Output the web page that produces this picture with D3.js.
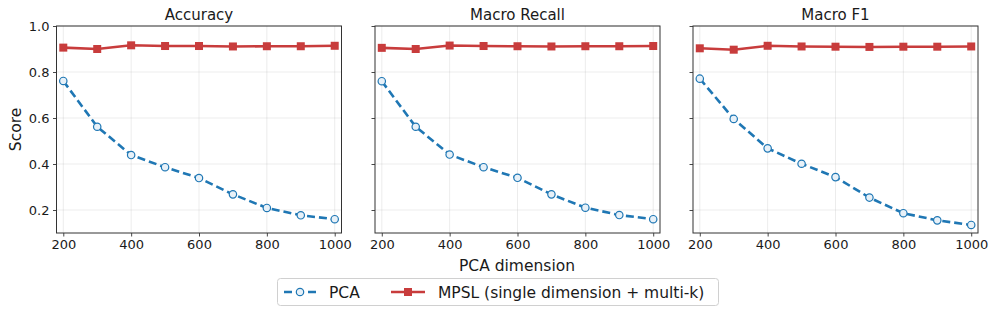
<!DOCTYPE html>
<html>
<head>
<meta charset="utf-8">
<script src="https://cdn.jsdelivr.net/npm/d3@7"></script>
<style>
    body { margin: 0; background: #fff; }
    text { font-family: "DejaVu Sans", sans-serif; fill: #1a1a1a; }
</style>
</head>
<body>
<div class="chart-container"></div>
<script>
// Data
const dims = [200, 300, 400, 500, 600, 700, 800, 900, 1000];
const metrics = ["Accuracy", "Macro Recall", "Macro F1"];
const pcaAccuracy = [0.761, 0.562, 0.439, 0.386, 0.339, 0.268, 0.209, 0.177, 0.160];
const pcaRecall   = [0.760, 0.562, 0.441, 0.386, 0.340, 0.268, 0.210, 0.178, 0.160];
const pcaF1       = [0.771, 0.596, 0.468, 0.401, 0.343, 0.254, 0.186, 0.155, 0.135];
const mpslAccuracy = [0.906, 0.900, 0.916, 0.913, 0.913, 0.911, 0.912, 0.912, 0.914];
const mpslRecall   = [0.905, 0.900, 0.915, 0.913, 0.912, 0.911, 0.912, 0.912, 0.913];
const mpslF1       = [0.903, 0.897, 0.914, 0.911, 0.910, 0.909, 0.910, 0.910, 0.911];
const xTicks = [200, 400, 600, 800, 1000];
const yTicks = [0.2, 0.4, 0.6, 0.8, 1.0];
const seriesNames = ["PCA", "MPSL (single dimension + multi-k)"];

const pcaData = [pcaAccuracy, pcaRecall, pcaF1];
const mpslData = [mpslAccuracy, mpslRecall, mpslF1];

const width = 996;
const height = 314;
const panelLefts = [56.5, 375, 693];
const panelWidth = 285;
const marginTop = 26;
const plotBottom = 233;

const blue = "#1f77b4";
const red = "#c83c3c";

const svg = d3.select('.chart-container').append("svg")
    .attr("width", width)
    .attr("height", height);

const y = d3.scaleLinear()
    .domain([0.1, 1.0])
    .range([plotBottom, marginTop]);

metrics.forEach((name, i) => {
    const left = panelLefts[i];
    const x = d3.scaleLinear()
        .domain([180, 1020])
        .range([left, left + panelWidth]);

    const g = svg.append("g");

    // grid
    g.selectAll(".vgrid").data(xTicks).enter().append("line")
        .attr("x1", d => x(d)).attr("x2", d => x(d))
        .attr("y1", marginTop).attr("y2", plotBottom)
        .attr("stroke", "#b0b0b0").attr("stroke-opacity", 0.3).attr("stroke-width", 0.8);
    g.selectAll(".hgrid").data(yTicks).enter().append("line")
        .attr("x1", left).attr("x2", left + panelWidth)
        .attr("y1", d => y(d)).attr("y2", d => y(d))
        .attr("stroke", "#b0b0b0").attr("stroke-opacity", 0.3).attr("stroke-width", 0.8);

    // axes
    const xAxis = g.append("g")
        .attr("transform", `translate(0,${plotBottom})`)
        .call(d3.axisBottom(x).tickValues(xTicks).tickSize(3.5).tickPadding(3.5).tickFormat(d3.format('d')));
    const yAxis = g.append("g")
        .attr("transform", `translate(${left},0)`)
        .call(d3.axisLeft(y).tickValues(yTicks).tickSize(3.5).tickPadding(3.5)
            .tickFormat(i === 0 ? d3.format('.1f') : () => ''));
    [xAxis, yAxis].forEach(a => {
        a.select(".domain").remove();
        a.selectAll("line").attr("stroke", "#333").attr("stroke-width", 0.9);
        a.selectAll("text").style("font-size", "13px").attr("fill", "#1a1a1a")
            .style("font-family", "DejaVu Sans, sans-serif");
    });

    // frame
    g.append("rect")
        .attr("x", left).attr("y", marginTop)
        .attr("width", panelWidth).attr("height", plotBottom - marginTop)
        .attr("fill", "none").attr("stroke", "#333").attr("stroke-width", 1);

    // title
    g.append("text")
        .attr("x", left + panelWidth / 2).attr("y", marginTop - 6)
        .attr("text-anchor", "middle")
        .style("font-size", "15px")
        .text(name);

    // MPSL line
    const line = d3.line().x((d, j) => x(dims[j])).y(d => y(d));
    g.append("path")
        .datum(mpslData[i])
        .attr("d", line)
        .attr("fill", "none").attr("stroke", red).attr("stroke-width", 2.6);
    g.selectAll(".sq").data(mpslData[i]).enter().append("rect")
        .attr("x", (d, j) => x(dims[j]) - 4).attr("y", d => y(d) - 4)
        .attr("width", 8).attr("height", 8)
        .attr("fill", red);

    // PCA line
    g.append("path")
        .datum(pcaData[i])
        .attr("d", line)
        .attr("fill", "none").attr("stroke", blue).attr("stroke-width", 2.6)
        .attr("stroke-dasharray", "8,4");
    g.selectAll(".dot").data(pcaData[i]).enter().append("circle")
        .attr("cx", (d, j) => x(dims[j])).attr("cy", d => y(d))
        .attr("r", 3.7)
        .attr("fill", "#e8f1f8").attr("stroke", blue).attr("stroke-width", 1.2);
});

// axis labels
svg.append("text")
    .attr("transform", `translate(21,${(marginTop + plotBottom) / 2}) rotate(-90)`)
    .attr("text-anchor", "middle")
    .style("font-size", "15.5px")
    .text("Score");

svg.append("text")
    .attr("x", 517).attr("y", 271)
    .attr("text-anchor", "middle")
    .style("font-size", "15.5px")
    .text("PCA dimension");

// Legend
const legend = svg.append("g");
legend.append("rect")
    .attr("x", 277.5).attr("y", 278.5)
    .attr("width", 441).attr("height", 27)
    .attr("rx", 3)
    .attr("fill", "#fff").attr("stroke", "#d0d0d0");

legend.append("line")
    .attr("x1", 284).attr("x2", 316).attr("y1", 292).attr("y2", 292)
    .attr("stroke", blue).attr("stroke-width", 2.6).attr("stroke-dasharray", "8,4");
legend.append("circle")
    .attr("cx", 300).attr("cy", 292).attr("r", 3.7)
    .attr("fill", "#e8f1f8").attr("stroke", blue).attr("stroke-width", 1.2);
legend.append("text")
    .attr("x", 329).attr("y", 297.5)
    .style("font-size", "15.5px")
    .text(seriesNames[0]);

legend.append("line")
    .attr("x1", 391).attr("x2", 425).attr("y1", 292).attr("y2", 292)
    .attr("stroke", red).attr("stroke-width", 2.6);
legend.append("rect")
    .attr("x", 404).attr("y", 288).attr("width", 8).attr("height", 8)
    .attr("fill", red);
legend.append("text")
    .attr("x", 438).attr("y", 297.5)
    .style("font-size", "15.5px")
    .text(seriesNames[1]);
</script>
</body>
</html>
